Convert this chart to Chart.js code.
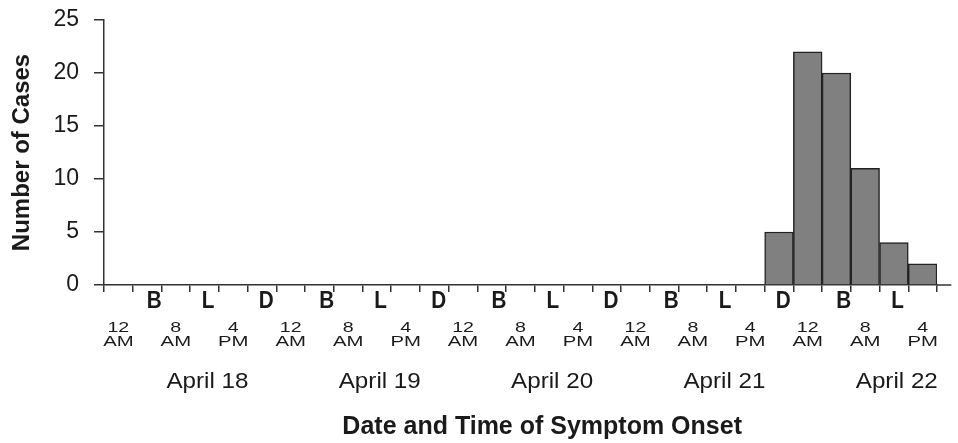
<!DOCTYPE html>
<html><head><meta charset="utf-8">
<script src="https://cdn.jsdelivr.net/npm/chart.js@4"></script>
<style>html,body{margin:0;padding:0;background:#fff;}#wrap{width:958px;height:443px;}</style>
</head><body><div id="wrap"><canvas id="c" width="958" height="443"></canvas></div>
<script>
// 4-hour bins of symptom onset, April 18 12 AM through April 22 4 PM
const categories = [
  'Apr 18 12 AM','Apr 18 4 AM','Apr 18 8 AM','Apr 18 12 PM','Apr 18 4 PM','Apr 18 8 PM',
  'Apr 19 12 AM','Apr 19 4 AM','Apr 19 8 AM','Apr 19 12 PM','Apr 19 4 PM','Apr 19 8 PM',
  'Apr 20 12 AM','Apr 20 4 AM','Apr 20 8 AM','Apr 20 12 PM','Apr 20 4 PM','Apr 20 8 PM',
  'Apr 21 12 AM','Apr 21 4 AM','Apr 21 8 AM','Apr 21 12 PM','Apr 21 4 PM','Apr 21 8 PM',
  'Apr 22 12 AM','Apr 22 4 AM','Apr 22 8 AM','Apr 22 12 PM','Apr 22 4 PM'
];
const cases = [
  0,0,0,0,0,0,
  0,0,0,0,0,0,
  0,0,0,0,0,0,
  0,0,0,0,0,5,
  22,20,11,4,2
];
const dayLabels = ['April 18','April 19','April 20','April 21','April 22'];
const timeTickLabels = [['12','AM'],['8','AM'],['4','PM']];   // shown every 8 hours
const timeTickHours = [0, 8, 16];
const mealLetters = ['B','L','D'];
const mealHours = [7, 14.5, 22.6];
const yTicks = [0, 5, 10, 15, 20, 25];

const HOURS_PER_BIN = 4;
const BINS_PER_DAY = 6;

const textPlugin = {
  id: 'xLabels',
  afterDraw(chart) {
    const ctx = chart.ctx;
    const xs = chart.scales.x;
    const area = chart.chartArea;
    const w = xs.getPixelForValue(1) - xs.getPixelForValue(0);
    const x0 = xs.getPixelForValue(0) - w / 2;
    const nBins = categories.length;
    const px = p => x0 + p * w;
    const yAxis = area.bottom;

    // extension of the horizontal axis past the last bin
    ctx.save();
    ctx.strokeStyle = '#333';
    ctx.lineWidth = 1.5;
    ctx.beginPath();
    ctx.moveTo(area.right, yAxis);
    ctx.lineTo(area.right + w * 0.5, yAxis);
    ctx.stroke();
    ctx.restore();

    const drawText = (str, x, y, font, sx) => {
      ctx.save();
      ctx.font = font;
      ctx.fillStyle = '#1a1a1a';
      ctx.textAlign = 'center';
      ctx.textBaseline = 'middle';
      ctx.translate(x, y);
      ctx.scale(sx, 1);
      ctx.fillText(str, 0, 0);
      ctx.restore();
    };

    dayLabels.forEach((day, d) => {
      // meal letters
      mealLetters.forEach((m, k) => {
        const p = d * BINS_PER_DAY + mealHours[k] / HOURS_PER_BIN;
        if (p < nBins) drawText(m, px(p), yAxis + 17, 'bold 23px "Liberation Sans"', 0.9);
      });
      // time of day labels
      timeTickLabels.forEach((lines, k) => {
        const p = d * BINS_PER_DAY + timeTickHours[k] / HOURS_PER_BIN + 0.5;
        if (p < nBins) {
          drawText(lines[0], px(p), yAxis + 43, '14px "Liberation Sans"', 1.4);
          drawText(lines[1], px(p), yAxis + 57, '14px "Liberation Sans"', 1.45);
        }
      });
      // date labels
      drawText(day, px(d * BINS_PER_DAY + 3.6), yAxis + 97, '22px "Liberation Sans"', 1.1);
    });

    // axis title
    drawText('Date and Time of Symptom Onset', area.left + (area.right - area.left) * 0.526, yAxis + 142,
      'bold 25px "Liberation Sans"', 1.0);
  }
};

new Chart(document.getElementById('c'), {
  type: 'bar',
  data: {
    labels: categories,
    datasets: [{
      data: cases,
      backgroundColor: '#808080',
      borderColor: '#222',
      borderWidth: 1.5,
      barPercentage: 1,
      categoryPercentage: 1
    }]
  },
  options: {
    responsive: false,
    animation: false,
    devicePixelRatio: 1,
    layout: { padding: { top: 20, right: 21, left: 0, bottom: 0 } },
    plugins: { legend: { display: false }, tooltip: { enabled: false } },
    scales: {
      x: {
        offset: true,
        grid: { display: true, offset: true, drawOnChartArea: false, drawTicks: true, tickLength: 7, color: '#333', lineWidth: 1.5 },
        border: { display: true, color: '#333', width: 1.5 },
        ticks: { display: false },
        afterFit(scale) { scale.height = 158; }
      },
      y: {
        min: 0, max: 25,
        afterBuildTicks(scale) { scale.ticks = yTicks.map(v => ({ value: v })); },
        grid: { drawOnChartArea: false, drawTicks: true, tickLength: 10, color: '#333', lineWidth: 1.5 },
        border: { display: true, color: '#333', width: 1.5 },
        ticks: { padding: 15, color: '#1a1a1a', font: { family: 'Liberation Sans', size: 23 } },
        title: { display: true, text: 'Number of Cases', color: '#1a1a1a',
                 font: { family: 'Liberation Sans', size: 24, weight: 'bold' }, padding: { top: 8, bottom: 0 } },
        afterFit(scale) { scale.width = 104; scale.paddingTop = 12; scale.paddingBottom = 0; }
      }
    }
  },
  plugins: [textPlugin]
});
</script>
</body></html>
